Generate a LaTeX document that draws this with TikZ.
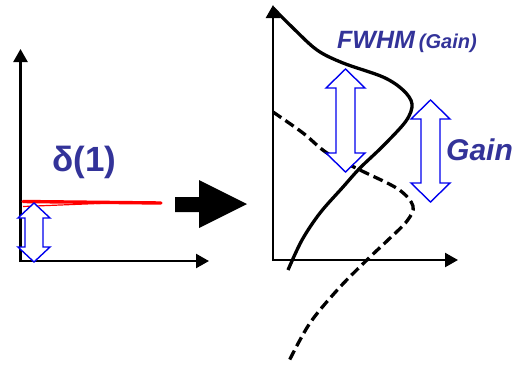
\documentclass[tikz,border=0pt]{standalone}
\usepackage{fontspec}
\setmainfont{Liberation Sans}
\usetikzlibrary{arrows.meta}
\definecolor{txtblue}{HTML}{333399}
\definecolor{arrblue}{HTML}{0000EE}
\newcommand\hollowarrow[6]{% cx, top, bottom, head half width, shaft half width, head length
  \draw[hollow] (#1,#2) -- (#1+#4,#2+#6) -- (#1+#5,#2+#6) -- (#1+#5,#3-#6) -- (#1+#4,#3-#6)
    -- (#1,#3) -- (#1-#4,#3-#6) -- (#1-#5,#3-#6) -- (#1-#5,#2+#6) -- (#1-#4,#2+#6) -- cycle;}
\begin{document}
\begin{tikzpicture}[x=1pt,y=-1pt,
  axis/.style={line width=2.4pt,-{Triangle[length=13pt,width=14pt]}},
  hollow/.style={draw=arrblue,line width=1.4pt,fill=white,line join=miter},
  curve/.style={line width=3.3pt},
  dcurve/.style={line width=3.3pt,dash pattern=on 10pt off 5pt},
  lbl/.style={text=txtblue,font=\bfseries,inner sep=0pt}]
\useasboundingbox (0,0) rectangle (516,365);
% left axes
\coordinate (lo) at (20.5,261);
\coordinate (ly) at (20.5,49);
\coordinate (lx) at (209,261);
\draw[axis] (20.5,262.2) -- (ly);
\draw[axis] (19.3,261) -- (lx);
% red line
\draw[red,line width=3.4pt,line cap=round] (23,201.5) -- (161,203);
\draw[red,line width=1.2pt] (23,206.5) -- (110,203);
% left hollow arrow
\hollowarrow{34}{203}{262}{16}{9}{15}
% delta label
\node[lbl,font=\bfseries\fontsize{35}{35}\selectfont] (delta) at (84.5,162) {δ(1)};
% big arrow
\fill (175,197) -- (199,197) -- (199,180) -- (247,204) -- (199,228) -- (199,212) -- (175,212) -- cycle;
% right axes
\coordinate (ry) at (273,5);
\coordinate (rx) at (458,260);
\draw[axis] (273,261.2) -- (ry);
\draw[axis] (271.8,260) -- (rx);
% solid curve
\draw[curve] plot[smooth,tension=0.55] coordinates {(273,8) (293,28) (317,50) (343,63) (383,77) (403,90) (412,104) (406,121) (383,146) (360,168) (343,187) (320,213) (302,240) (288,270)};
% dashed curve
\draw[dcurve] plot[smooth,tension=0.55] coordinates {(273,112) (303,133) (327,153) (360,170) (398,189) (413,206) (407,221) (388,240) (370,257) (340,287) (310,323) (288,363)};
% hollow arrows
\hollowarrow{345.5}{69}{172}{19.5}{9.5}{19}
\hollowarrow{430.5}{100}{202}{19.5}{9.5}{19}
% labels
\node[lbl,anchor=base west] (fwhm) at (337,48) {\fontsize{25}{25}\selectfont\itshape FWHM\hspace{4pt}\fontsize{20}{20}\selectfont(Gain)};
\node[lbl,anchor=base west,font=\bfseries\itshape\fontsize{30}{30}\selectfont] (gain) at (446,160) {Gain};
\end{tikzpicture}
\end{document}
